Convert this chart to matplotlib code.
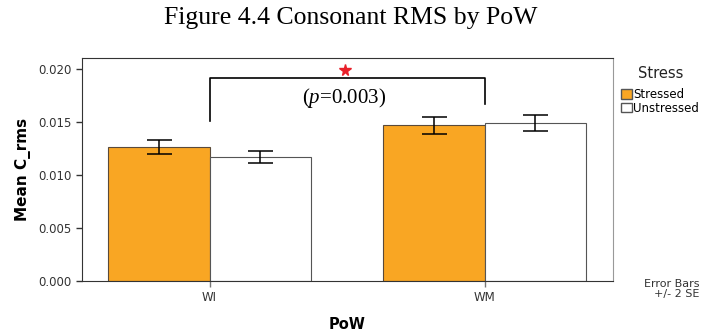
import numpy as np
import matplotlib.pyplot as plt
from matplotlib.patches import Patch

# Datos
categorias = ['WI', 'WM']
series = ['Stressed', 'Unstressed']
media_stressed = [0.01265, 0.01472]
media_unstressed = [0.01172, 0.01490]
err_stressed = [0.00063, 0.00079]
err_unstressed = [0.00060, 0.00074]

naranja = '#F9A623'
x = np.arange(len(categorias))
ancho = 0.37

plt.rcParams['mathtext.fontset'] = 'custom'
plt.rcParams['mathtext.it'] = 'Liberation Serif:italic'
plt.rcParams['mathtext.rm'] = 'Liberation Serif'

fig = plt.figure(figsize=(7.01, 3.32), dpi=100)
ax = fig.add_axes([0.117, 0.1536, 0.7575, 0.6717])

ax.bar(x - ancho / 2, media_stressed, ancho, color=naranja, edgecolor='#5a4a3a', linewidth=0.8)
ax.bar(x + ancho / 2, media_unstressed, ancho, color='white', edgecolor='#555555', linewidth=0.8)
ax.errorbar(x - ancho / 2, media_stressed, yerr=err_stressed, fmt='none', ecolor='black',
            elinewidth=1.1, capsize=9, capthick=1.1)
ax.errorbar(x + ancho / 2, media_unstressed, yerr=err_unstressed, fmt='none', ecolor='black',
            elinewidth=1.1, capsize=9, capthick=1.1)

# Corchete de significancia
ax.plot([x[0], x[0], x[1], x[1]], [0.01509, 0.01914, 0.01914, 0.01676], color='black', lw=1.2)
ax.plot([0.493], [0.0199], marker='*', color='#e8202a', markersize=8.5, linestyle='none')
ax.text(0.49, 0.01727, '($\\it{p}$=0.003)', ha='center', va='center', fontsize=15,
        family='Liberation Serif')

ax.set_xlim(-0.4638, 1.467)
ax.set_ylim(0, 0.02107)
ax.set_xticks(x)
ax.set_xticklabels(categorias)
ax.set_yticks([0, 0.005, 0.010, 0.015, 0.020])
ax.set_yticklabels(['0.000', '0.005', '0.010', '0.015', '0.020'])
ax.tick_params(axis='both', labelsize=8.5, colors='#333333', length=4, width=1)
ax.tick_params(axis='x', length=4, color='#777777')
for lado in ['left', 'bottom', 'top']:
    ax.spines[lado].set_color('#333333')
ax.spines['right'].set_color('#999999')

ax.set_ylabel('Mean C_rms', fontsize=11, fontweight='bold', labelpad=5)
ax.set_xlabel('PoW', fontsize=10.5, fontweight='bold', labelpad=9)

fig.text(0.5, 0.945, 'Figure 4.4 Consonant RMS by PoW', ha='center', va='center',
         fontsize=18.5, family='Liberation Serif')

# Leyenda
fig.text(0.943, 0.78, 'Stress', ha='center', va='center', fontsize=10.5, color='#222222')
handles = [Patch(facecolor=naranja, edgecolor='#555555'), Patch(facecolor='white', edgecolor='#555555')]
leg = fig.legend(handles, series, loc='upper left', bbox_to_anchor=(0.886, 0.735),
                 frameon=False, fontsize=8.5, handlelength=0.9, handleheight=0.9,
                 handletextpad=0.15, labelspacing=0.05, borderaxespad=0, borderpad=0)

fig.text(0.998, 0.13, 'Error Bars\n+/- 2 SE', ha='right', va='center', fontsize=8,
         color='#333333', multialignment='right', linespacing=1.0)

fig.savefig('out.png', dpi=100)
